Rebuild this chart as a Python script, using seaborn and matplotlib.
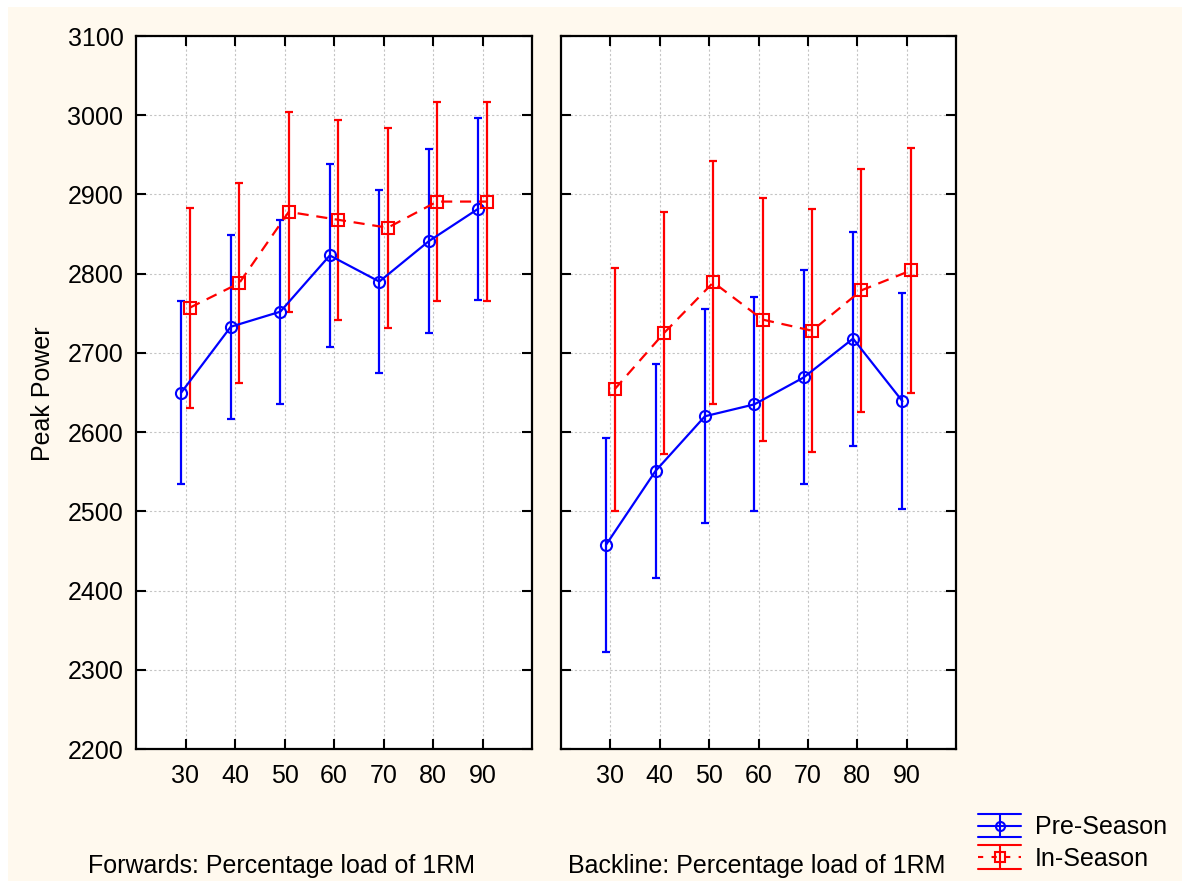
import numpy as np
import pandas as pd
import matplotlib
matplotlib.use("Agg")
import matplotlib.pyplot as plt
from matplotlib.lines import Line2D
from matplotlib.patches import Rectangle
from matplotlib.legend_handler import HandlerBase
import seaborn as sns

# ---- data -------------------------------------------------------------
loads = [30, 40, 50, 60, 70, 80, 90]
seasons = ["Pre-Season", "In-Season"]

fwd_pre_mean = [2650, 2733, 2752, 2823, 2790, 2841, 2882]
fwd_pre_err = [116, 116, 116, 116, 116, 116, 115]
fwd_in_mean = [2757, 2788, 2878, 2868, 2858, 2891, 2891]
fwd_in_err = [126, 126, 126, 126, 126, 126, 126]

back_pre_mean = [2458, 2551, 2620, 2635, 2669, 2718, 2639]
back_pre_err = [135, 135, 135, 135, 135, 135, 136]
back_in_mean = [2654, 2725, 2789, 2742, 2728, 2779, 2804]
back_in_err = [153, 153, 153, 153, 153, 153, 154]

panel_titles = ["Forwards: Percentage load of 1RM",
                "Backline: Percentage load of 1RM"]
y_label = "Peak Power"
y_ticks = [2200, 2300, 2400, 2500, 2600, 2700, 2800, 2900, 3000, 3100]

# ---- long table ---------------------------------------------------------
rows = []
for group, pre_m, pre_e, in_m, in_e in [
    ("Forwards", fwd_pre_mean, fwd_pre_err, fwd_in_mean, fwd_in_err),
    ("Backline", back_pre_mean, back_pre_err, back_in_mean, back_in_err),
]:
    for season, means, errs in [("Pre-Season", pre_m, pre_e),
                                ("In-Season", in_m, in_e)]:
        for ld, m, e in zip(loads, means, errs):
            rows.append(dict(group=group, season=season, load=ld, mean=m, err=e))
df = pd.DataFrame(rows)

# ---- style ----------------------------------------------------------------
sns.set_theme(style="ticks")
plt.rcParams["font.family"] = ["Liberation Sans", "DejaVu Sans"]
plt.rcParams["text.color"] = "black"
FS = 18

W, H = 1182, 881
fig = plt.figure(figsize=(W / 100, H / 100), dpi=100)
fig.patch.set_facecolor("white")
cream = "#FFF9EE"
fig.add_artist(Rectangle((8 / W, 0), 1 - 8 / W, (H - 7) / H,
                         transform=fig.transFigure, facecolor=cream,
                         edgecolor="none", zorder=-5))

style = {
    "Pre-Season": dict(color="#0000FF", marker="o", ls="-", offset=-0.85),
    "In-Season": dict(color="#FF0000", marker="s", ls=(0, (5, 3.5)), offset=0.85),
}

axes_px = [(136, 532), (561, 956)]
top_px, bot_px = 36, 749
axes = []
for (x0, x1) in axes_px:
    ax = fig.add_axes([x0 / W, (H - bot_px) / H, (x1 - x0) / W, (bot_px - top_px) / H])
    axes.append(ax)

legend_lines = {}
for ax, group in zip(axes, ["Forwards", "Backline"]):
    ax.set_facecolor("white")
    for season in seasons:
        st = style[season]
        sub = df[(df.group == group) & (df.season == season)].copy()
        sub["xpos"] = sub["load"] + st["offset"]
        ax.errorbar(sub["xpos"], sub["mean"], yerr=sub["err"], fmt="none",
                    ecolor=st["color"], elinewidth=1.6, capsize=3,
                    capthick=1.6, zorder=2)
        n_before = len(ax.lines)
        sns.lineplot(data=sub, x="xpos", y="mean", ax=ax, color=st["color"],
                     marker=st["marker"], linestyle=st["ls"], linewidth=1.6,
                     markersize=8, markeredgewidth=1.5,
                     markeredgecolor=st["color"], markerfacecolor="none",
                     errorbar=None, zorder=3)
        legend_lines[season] = ax.lines[n_before]

    ax.set_xlim(20, 100)
    ax.set_ylim(2200, 3100)
    ax.set_xticks(loads)
    ax.set_xticklabels([str(v) for v in loads])
    ax.set_yticks(y_ticks)
    ax.set_xlabel("")
    ax.set_ylabel("")
    ax.grid(True, color="#c4c4c4", linestyle=(0, (2, 2)), linewidth=0.8)
    ax.set_axisbelow(True)
    for sp in ax.spines.values():
        sp.set_visible(True)
        sp.set_color("black")
        sp.set_linewidth(1.6)
    ax.tick_params(direction="in", length=7, width=1.5, top=True, right=True,
                   labelsize=FS, colors="black")
    ax.tick_params(axis="x", pad=11)
    ax.tick_params(axis="y", pad=9)

axes[1].tick_params(labelleft=False)

# ---- labels ---------------------------------------------------------------
fig.text(88 / W, (H - 873) / H, panel_titles[0], fontsize=FS,
         ha="left", va="baseline", color="black")
fig.text(568 / W, (H - 873) / H, panel_titles[1], fontsize=FS,
         ha="left", va="baseline", color="black")
fig.text(43 / W, (H - 394) / H, y_label, fontsize=FS, rotation=90,
         ha="center", va="center", color="black")


# ---- legend with error-bar keys -------------------------------------------
class ErrorKeyHandler(HandlerBase):
    def create_artists(self, legend, orig_handle, xdescent, ydescent,
                       width, height, fontsize, trans):
        c = orig_handle.get_color()
        mk = orig_handle.get_marker()
        ls = orig_handle.get_linestyle()
        ym = height / 2 - ydescent
        xa, xb = -xdescent, -xdescent + width
        xc = (xa + xb) / 2
        d = 8.4
        arts = [
            Line2D([xa, xb], [ym + d, ym + d], color=c, lw=1.5),
            Line2D([xa, xb], [ym - d, ym - d], color=c, lw=1.5),
            Line2D([xa, xb], [ym, ym], color=c, lw=1.5,
                   linestyle="-" if ls == "-" else (0, (2.5, 4))),
            Line2D([xc, xc], [ym - d, ym + d], color=c, lw=1.5),
            Line2D([xc], [ym], color=c, marker=mk, markersize=6.5,
                   markeredgewidth=1.5, markerfacecolor="none",
                   markeredgecolor=c, linestyle="none"),
        ]
        for a in arts:
            a.set_transform(trans)
        return arts


handler = ErrorKeyHandler()
fig.legend([legend_lines[s] for s in seasons], seasons,
           handler_map={legend_lines[s]: handler for s in seasons},
           loc="center left", bbox_to_anchor=(978 / W, (H - 843) / H),
           frameon=False, fontsize=FS, borderpad=0, borderaxespad=0,
           handlelength=1.72, handletextpad=0.55, labelspacing=0.3)

fig.savefig("out.png", dpi=100, facecolor=fig.get_facecolor())
